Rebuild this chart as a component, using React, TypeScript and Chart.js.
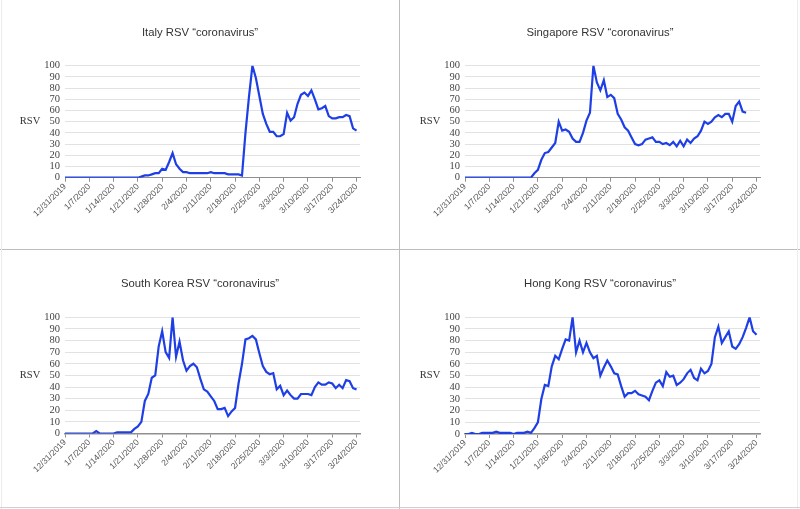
import React, { useEffect, useRef } from "react";
import { Chart, registerables } from "chart.js";
Chart.register(...registerables);

// ---- categories: one label per day, 12/31/2019 .. 3/25/2020
const DAY_COUNT = 86;
const days: string[] = Array.from({ length: DAY_COUNT }, (_, i) => {
  const d = new Date(2019, 11, 31 + i);
  return `${d.getMonth() + 1}/${d.getDate()}/${d.getFullYear()}`;
});

const tickLabels = [
  "12/31/2019", "1/7/2020", "1/14/2020", "1/21/2020", "1/28/2020", "2/4/2020", "2/11/2020",
  "2/18/2020", "2/25/2020", "3/3/2020", "3/10/2020", "3/17/2020", "3/24/2020",
];

const italy = [
  0, 0, 0, 0, 0, 0, 0, 0, 0, 0, 0, 0, 0, 0, 0, 0, 0, 0, 0, 0, 0,
  0, 1, 2, 2, 3, 4, 4, 8, 7, 14, 22, 12, 8, 5, 5, 4, 4, 4, 4, 4, 4,
  5, 4, 4, 4, 4, 3, 3, 3, 3, 2, 40, 72, 100, 89, 73, 57, 48, 41, 41, 37,
  37, 39, 58, 51, 54, 66, 74, 76, 73, 78, 70, 61, 62, 64, 55, 53, 53, 54,
  54, 56, 55, 44, 42,
];

const singapore = [
  0, 0, 0, 0, 0, 0, 0, 0, 0, 0, 0, 0, 0, 0, 0, 0, 0, 0, 0, 0,
  4, 7, 16, 22, 23, 27, 31, 50, 42, 43, 41, 35, 32, 32, 40, 51, 58,
  100, 85, 78, 87, 72, 74, 71, 57, 52, 45, 42, 36, 30, 29, 30, 34, 35,
  36, 32, 32, 30, 31, 29, 32, 28, 33, 28, 34, 31, 35, 37, 42, 50, 48,
  50, 54, 56, 54, 57, 57, 50, 64, 68, 59, 58,
];

const southKorea = [
  0, 0, 0, 0, 0, 0, 0, 0, 0, 2, 0, 0, 0, 0, 0, 1, 1, 1, 1, 1,
  4, 6, 10, 28, 34, 48, 50, 75, 88, 70, 65, 100, 66, 79, 63, 54, 58,
  60, 57, 47, 38, 36, 32, 28, 21, 21, 22, 15, 19, 22, 43, 60, 81, 82,
  84, 81, 69, 58, 53, 51, 52, 38, 41, 33, 37, 33, 30, 30, 34, 34, 34,
  33, 40, 44, 42, 42, 44, 43, 39, 42, 39, 46, 45, 39, 38,
];

const hongKong = [
  0, 0, 1, 0, 0, 1, 1, 1, 1, 2, 1, 1, 1, 1, 0, 1, 1, 1, 2, 1,
  5, 10, 30, 42, 41, 58, 67, 64, 73, 81, 80, 100, 70, 80, 70, 78, 70,
  65, 67, 50, 57, 63, 58, 52, 51, 41, 32, 35, 35, 37, 34, 33, 32, 29,
  37, 44, 46, 41, 53, 49, 50, 42, 44, 47, 52, 55, 48, 46, 56, 52, 54,
  60, 83, 92, 78, 83, 88, 75, 73, 77, 83, 91, 100, 88, 85,
];

const BLUE = "#1f3fe6";
const AXIS_GREY = "#8f8f8f";

const overlayPlugin = {
  id: "overlay",
  afterDraw(chart: any, _args: any, opts: any) {
    const ctx = chart.ctx;
    ctx.save();
    ctx.fillStyle = "#333";
    ctx.textAlign = "center";
    ctx.textBaseline = "middle";
    ctx.font = '11.3px "Liberation Sans", Arial, sans-serif';
    ctx.fillText(opts.title, opts.titleX, opts.titleY);
    ctx.font = '10.5px "Liberation Serif", "Times New Roman", serif';
    ctx.fillText("RSV", opts.rsvX, opts.rsvY);
    ctx.restore();
  },
};

type PanelProps = {
  title: string;
  values: number[];
  left: number;
  top: number;
  width: number;
  height: number;
  plotTop: number;
  plotBottom: number;
  axisWidth: number;
};

function Panel({ title, values, left, top, width, height, plotTop, plotBottom, axisWidth }: PanelProps) {
  const ref = useRef<HTMLCanvasElement | null>(null);
  useEffect(() => {
    if (!ref.current) return;
    const chart = new Chart(ref.current, {
      type: "line",
      data: {
        labels: days,
        datasets: [
          {
            data: values,
            borderColor: BLUE,
            borderWidth: 2.2,
            pointRadius: 0,
            tension: 0,
            fill: false,
          },
        ],
      },
      options: {
        responsive: false,
        animation: false,
        layout: { padding: { left: 0, top: plotTop, right: width - 360, bottom: 0 } },
        plugins: {
          legend: { display: false },
          tooltip: { enabled: false },
          overlay: { title, titleX: 200, titleY: top === 0 ? 33 : 34, rsvX: 30, rsvY: (plotTop + plotBottom) / 2 },
        } as any,
        scales: {
          x: {
            type: "category",
            offset: false,
            afterFit: (s: any) => {
              s.height = height - plotBottom;
            },
            grid: {
              drawOnChartArea: false,
              drawTicks: true,
              tickLength: 4,
              tickWidth: 1,
              tickColor: (c: any) => (tickLabels.includes(days[c.index]) ? AXIS_GREY : "rgba(255,255,255,0)"),
            },
            border: { display: true, color: AXIS_GREY, width: axisWidth },
            ticks: {
              autoSkip: false,
              maxRotation: 45,
              minRotation: 45,
              padding: 0,
              color: "#555",
              font: { family: '"Liberation Sans", Arial, sans-serif', size: 8.5 },
              callback: (_v: any, i: number) => (tickLabels.includes(days[i]) ? days[i] : ""),
            },
          },
          y: {
            min: 0,
            max: 100,
            afterFit: (s: any) => {
              s.width = 65;
            },
            ticks: {
              stepSize: 10,
              autoSkip: false,
              padding: 5,
              color: "#444",
              font: { family: '"Liberation Serif", "Times New Roman", serif', size: 10.5 },
            },
            grid: { color: "#e2e2e2", drawTicks: false, lineWidth: 1 },
            border: { display: false },
          },
        },
      } as any,
      plugins: [overlayPlugin as any],
    });
    return () => chart.destroy();
  }, []);
  return (
    <div style={{ position: "absolute", left, top, width, height }}>
      <canvas ref={ref} width={width} height={height} style={{ display: "block" }} />
    </div>
  );
}

export default function App() {
  return (
    <div
      style={{
        position: "fixed",
        left: 0,
        top: 0,
        width: 800,
        height: 509,
        background: "#fff",
        overflow: "hidden",
      }}
    >
      <Panel title="Italy RSV “coronavirus”" values={italy} left={0} top={0} width={399} height={249} plotTop={65.7} plotBottom={177.7} axisWidth={1} />
      <Panel title="Singapore RSV “coronavirus”" values={singapore} left={400} top={0} width={400} height={249} plotTop={65.7} plotBottom={177.7} axisWidth={1} />
      <Panel title="South Korea RSV “coronavirus”" values={southKorea} left={0} top={250} width={399} height={259} plotTop={67.3} plotBottom={183.5} axisWidth={1.5} />
      <Panel title="Hong Kong RSV “coronavirus”" values={hongKong} left={400} top={250} width={400} height={259} plotTop={67.3} plotBottom={184} axisWidth={1.5} />
      <div style={{ position: "absolute", left: 399, top: 0, width: 1, height: 509, background: "#bdbdbd" }} />
      <div style={{ position: "absolute", left: 0, top: 249, width: 800, height: 1, background: "#bdbdbd" }} />
      <div style={{ position: "absolute", left: 1, top: 0, width: 1, height: 509, background: "#ececec" }} />
      <div style={{ position: "absolute", left: 797, top: 0, width: 1, height: 509, background: "#ececec" }} />
      <div style={{ position: "absolute", left: 0, top: 507, width: 800, height: 1, background: "#d0d0d0" }} />
    </div>
  );
}
